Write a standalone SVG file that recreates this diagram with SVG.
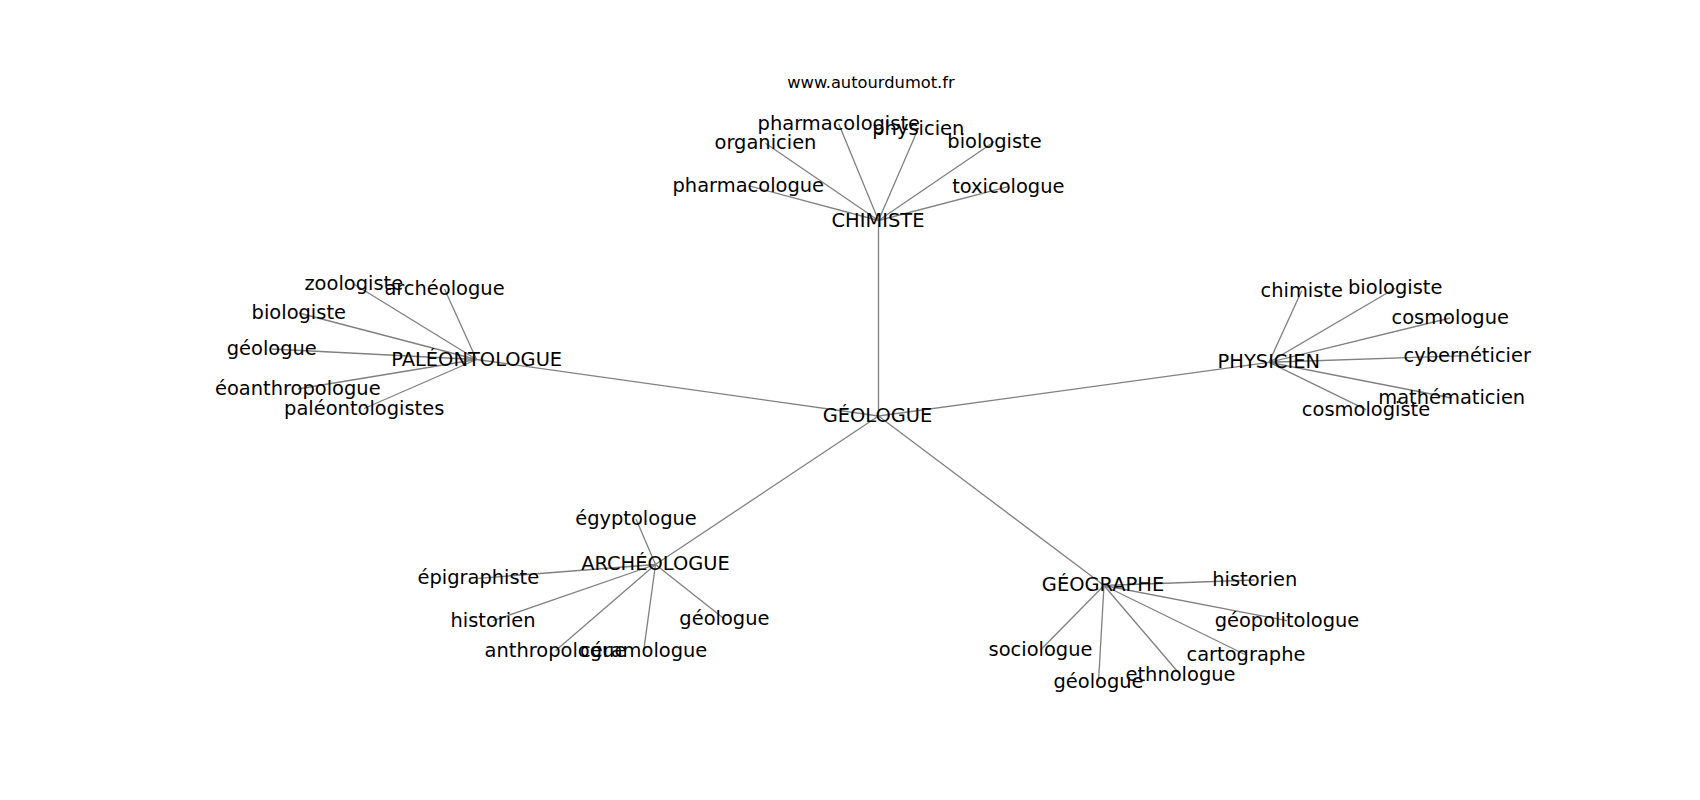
<svg xmlns="http://www.w3.org/2000/svg" width="1700" height="800" viewBox="0 0 1700 800">
<style>
.e{stroke:#808080;stroke-width:1.3;fill:none}
.n text{font-family:"DejaVu Sans","Noto Sans",sans-serif;font-size:19.44px;fill:#000;text-anchor:middle}
.t{font-family:"DejaVu Sans","Noto Sans",sans-serif;font-size:16.3px;fill:#000;text-anchor:middle}
</style>
<rect width="1700" height="800" fill="#fff"/>
<text class="t" x="871" y="88.3">www.autourdumot.fr</text>
<g id="connectors">
<line class="e" x1="878.5" y1="416" x2="878.5" y2="220.5"/>
<line class="e" x1="878.5" y1="416" x2="476.5" y2="359.5"/>
<line class="e" x1="878.5" y1="416" x2="1269" y2="362.3"/>
<line class="e" x1="878.5" y1="416" x2="655.5" y2="564.5"/>
<line class="e" x1="878.5" y1="416" x2="1104" y2="585.5"/>
<line class="e" x1="878.5" y1="220.5" x2="838.8" y2="124"/>
<line class="e" x1="878.5" y1="220.5" x2="918.3" y2="128.5"/>
<line class="e" x1="878.5" y1="220.5" x2="765.5" y2="143.3"/>
<line class="e" x1="878.5" y1="220.5" x2="994.5" y2="141.5"/>
<line class="e" x1="878.5" y1="220.5" x2="748.3" y2="185.7"/>
<line class="e" x1="878.5" y1="220.5" x2="1008.3" y2="186.7"/>
<line class="e" x1="476.5" y1="359.5" x2="353.8" y2="284"/>
<line class="e" x1="476.5" y1="359.5" x2="444.5" y2="289"/>
<line class="e" x1="476.5" y1="359.5" x2="298.8" y2="313"/>
<line class="e" x1="476.5" y1="359.5" x2="271.8" y2="349"/>
<line class="e" x1="476.5" y1="359.5" x2="297.8" y2="389"/>
<line class="e" x1="476.5" y1="359.5" x2="364.2" y2="408.5"/>
<line class="e" x1="1269" y1="362.3" x2="1301.7" y2="290.7"/>
<line class="e" x1="1269" y1="362.3" x2="1395.2" y2="288.3"/>
<line class="e" x1="1269" y1="362.3" x2="1450.2" y2="318"/>
<line class="e" x1="1269" y1="362.3" x2="1467.2" y2="355.7"/>
<line class="e" x1="1269" y1="362.3" x2="1451.7" y2="398"/>
<line class="e" x1="1269" y1="362.3" x2="1366" y2="409.7"/>
<line class="e" x1="655.5" y1="564.5" x2="636" y2="519"/>
<line class="e" x1="655.5" y1="564.5" x2="478.3" y2="578.3"/>
<line class="e" x1="655.5" y1="564.5" x2="493" y2="620.7"/>
<line class="e" x1="655.5" y1="564.5" x2="724.4" y2="619"/>
<line class="e" x1="655.5" y1="564.5" x2="555.5" y2="650.7"/>
<line class="e" x1="655.5" y1="564.5" x2="643.7" y2="650.7"/>
<line class="e" x1="1104" y1="585.5" x2="1254.7" y2="580"/>
<line class="e" x1="1104" y1="585.5" x2="1287" y2="620.7"/>
<line class="e" x1="1104" y1="585.5" x2="1040.5" y2="650"/>
<line class="e" x1="1104" y1="585.5" x2="1246" y2="655"/>
<line class="e" x1="1104" y1="585.5" x2="1098.5" y2="681.7"/>
<line class="e" x1="1104" y1="585.5" x2="1180.5" y2="675"/>
</g>
<g class="n" id="n-geologue"><text x="877.5" y="422.3">GÉOLOGUE</text></g>
<g class="n" id="n-chimiste"><text x="878" y="226.7">CHIMISTE</text></g>
<g class="n" id="n-paleontologue"><text x="476.7" y="365.7">PALÉONTOLOGUE</text></g>
<g class="n" id="n-physicien"><text x="1268.8" y="368.3">PHYSICIEN</text></g>
<g class="n" id="n-archeologue"><text x="655.5" y="569.5">ARCHÉOLOGUE</text></g>
<g class="n" id="n-geographe"><text x="1103" y="591">GÉOGRAPHE</text></g>
<g class="n" id="n-ch-pharmacologiste"><text x="838.8" y="130">pharmacologiste</text></g>
<g class="n" id="n-ch-physicien"><text x="918.3" y="134.5">physicien</text></g>
<g class="n" id="n-ch-organicien"><text x="765.5" y="149.3">organicien</text></g>
<g class="n" id="n-ch-biologiste"><text x="994.5" y="147.5">biologiste</text></g>
<g class="n" id="n-ch-pharmacologue"><text x="748.3" y="191.7">pharmacologue</text></g>
<g class="n" id="n-ch-toxicologue"><text x="1008.3" y="192.7">toxicologue</text></g>
<g class="n" id="n-pa-zoologiste"><text x="353.8" y="290">zoologiste</text></g>
<g class="n" id="n-pa-archeologue"><text x="444.5" y="295">archéologue</text></g>
<g class="n" id="n-pa-biologiste"><text x="298.8" y="319">biologiste</text></g>
<g class="n" id="n-pa-geologue"><text x="271.8" y="355">géologue</text></g>
<g class="n" id="n-pa-eoanthropologue"><text x="297.8" y="395">éoanthropologue</text></g>
<g class="n" id="n-pa-paleontologistes"><text x="364.2" y="414.5">paléontologistes</text></g>
<g class="n" id="n-ph-chimiste"><text x="1301.7" y="296.7">chimiste</text></g>
<g class="n" id="n-ph-biologiste"><text x="1395.2" y="294.3">biologiste</text></g>
<g class="n" id="n-ph-cosmologue"><text x="1450.2" y="324">cosmologue</text></g>
<g class="n" id="n-ph-cyberneticier"><text x="1467.2" y="361.7">cybernéticier</text></g>
<g class="n" id="n-ph-mathematicien"><text x="1451.7" y="404">mathématicien</text></g>
<g class="n" id="n-ph-cosmologiste"><text x="1366" y="415.7">cosmologiste</text></g>
<g class="n" id="n-ar-egyptologue"><text x="636" y="525">égyptologue</text></g>
<g class="n" id="n-ar-epigraphiste"><text x="478.3" y="584.3">épigraphiste</text></g>
<g class="n" id="n-ar-historien"><text x="493" y="626.7">historien</text></g>
<g class="n" id="n-ar-geologue"><text x="724.4" y="625">géologue</text></g>
<g class="n" id="n-ar-anthropologue"><text x="555.5" y="656.7">anthropologue</text></g>
<g class="n" id="n-ar-ceramologue"><text x="643.7" y="656.7">céramologue</text></g>
<g class="n" id="n-ge-historien"><text x="1254.7" y="586">historien</text></g>
<g class="n" id="n-ge-geopolitologue"><text x="1287" y="626.7">géopolitologue</text></g>
<g class="n" id="n-ge-sociologue"><text x="1040.5" y="656">sociologue</text></g>
<g class="n" id="n-ge-cartographe"><text x="1246" y="661">cartographe</text></g>
<g class="n" id="n-ge-geologue"><text x="1098.5" y="687.7">géologue</text></g>
<g class="n" id="n-ge-ethnologue"><text x="1180.5" y="681">ethnologue</text></g>
</svg>
